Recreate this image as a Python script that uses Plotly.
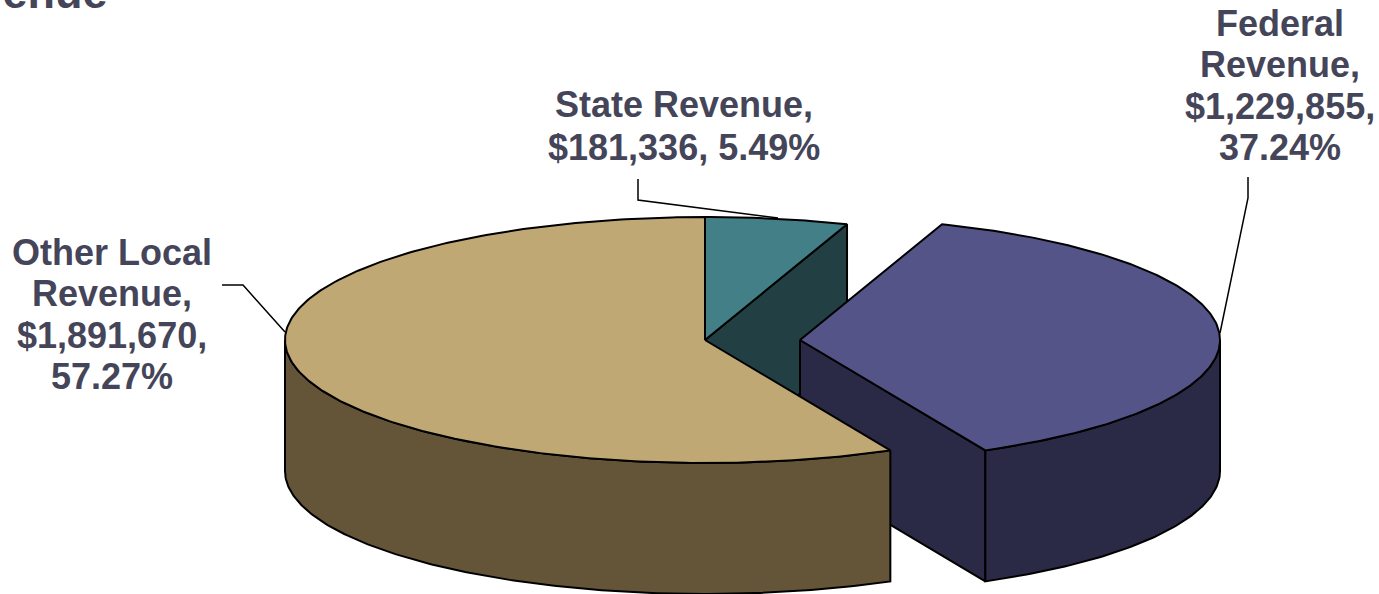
import numpy as np
import plotly.graph_objects as go

categories = ["State Revenue", "Federal Revenue", "Other Local Revenue"]
values = [181336, 1229855, 1891670]
percents = ["5.49%", "37.24%", "57.27%"]
top_colors = ["#437F87", "#555488", "#C0A875"]
side_colors = ["#223F43", "#2A2A46", "#645539"]
label_lines = [
    ["State Revenue,", "$181,336, 5.49%"],
    ["Federal", "Revenue,", "$1,229,855,", "37.24%"],
    ["Other Local", "Revenue,", "$1,891,670,", "57.27%"],
]
title_text = "Revenue"

W, H = 1379, 594
CX, CY, RX, RY, DEPTH = 705.0, 340.0, 420.0, 123.0, 131.0
EXPLODE = [0.0, 95.0, 0.0]
TEXT = "#45455A"
FONT = "Liberation Sans, Arial, sans-serif"

fracs = np.array(values, dtype=float) / sum(values)
edges = np.concatenate([[0.0], np.cumsum(fracs)]) * 2 * np.pi


def rim(t0, t1, dx, dy=0.0):
    t = np.linspace(t0, t1, max(int((t1 - t0) * 90), 2))
    return CX + dx + RX * np.sin(t), CY + dy - RY * np.cos(t)


fig = go.Figure()


def face(xs, ys, color, name):
    fig.add_trace(go.Scatter(
        x=np.round(xs, 2).tolist(), y=np.round(ys, 2).tolist(), mode="lines", fill="toself",
        fillcolor=color, line=dict(color="#000000", width=2), hoverinfo="text",
        text=name, showlegend=False))


def top(i):
    dx = EXPLODE[i]
    x, y = rim(edges[i], edges[i + 1], dx)
    face(np.r_[CX + dx, x, CX + dx], np.r_[CY, y, CY], top_colors[i], categories[i])


def cut(i, t):
    dx = EXPLODE[i]
    rx = CX + dx + RX * np.sin(t)
    ry = CY - RY * np.cos(t)
    face([CX + dx, rx, rx, CX + dx, CX + dx], [CY, ry, ry + DEPTH, CY + DEPTH, CY], side_colors[i], categories[i])


def wall(i, t0, t1):
    x, y = rim(t0, t1, EXPLODE[i])
    face(np.r_[x, x[::-1], x[0]], np.r_[y, y[::-1] + DEPTH, y[0]], side_colors[i], categories[i])


# back to front
cut(0, edges[1])
top(0)
cut(1, edges[2])
wall(1, np.pi / 2, edges[2])
top(1)
wall(2, edges[2], 1.5 * np.pi)
top(2)


def leader(xs, ys):
    fig.add_trace(go.Scatter(x=xs, y=ys, mode="lines", line=dict(color="#000000", width=1.5),
                             hoverinfo="skip", showlegend=False))


leader([638, 638, 778], [179, 200, 218])
leader([222, 243, 285], [285, 285, 332])
leader([1248, 1248, 1220], [177, 198, 333])

label_pos = [(683.5, [104, 147]), (1280, [23, 64, 106, 147]), (112, [252, 293, 335, 376])]
for lines, (lx, ys) in zip(label_lines, label_pos):
    for line, ly in zip(lines, ys):
        fig.add_annotation(x=lx, y=ly, text=line, showarrow=False, xanchor="center", yanchor="middle",
                           font=dict(family=FONT, size=36, color=TEXT, weight="bold"))

fig.add_annotation(x=110, xref="x", y=1, yref="paper", yshift=8, text=title_text, showarrow=False,
                   xanchor="right", yanchor="middle",
                   font=dict(family=FONT, size=45, color=TEXT, weight="bold"))

fig.update_layout(
    width=W, height=H, margin=dict(l=0, r=0, t=0, b=0), paper_bgcolor="white", plot_bgcolor="white",
    xaxis=dict(range=[0, W], visible=False, fixedrange=True),
    yaxis=dict(range=[H, 0], visible=False, fixedrange=True),
    showlegend=False,
)
fig.write_html("out.html", config=dict(displayModeBar=False),
               post_script="document.body.style.margin='0';document.body.style.overflow='hidden';")
